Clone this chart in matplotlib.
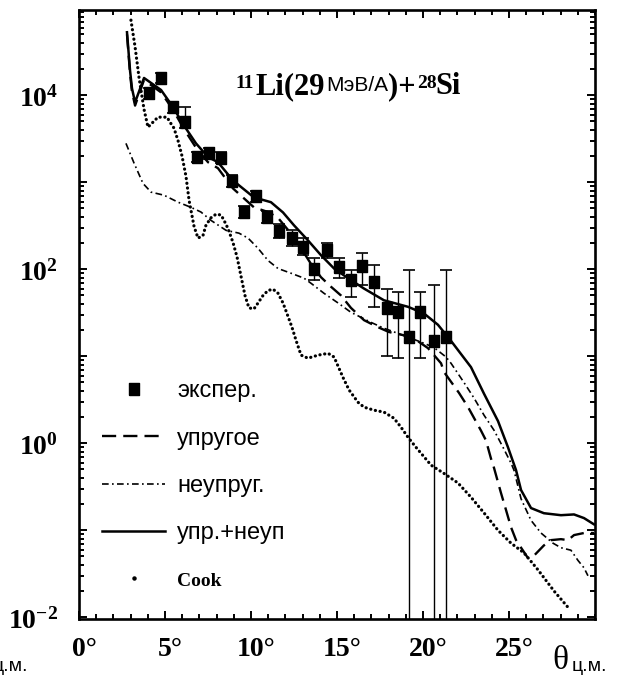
import matplotlib
matplotlib.use("Agg")
import matplotlib.pyplot as plt
from matplotlib.lines import Line2D
from matplotlib.ticker import LogLocator, NullFormatter, MultipleLocator, FixedFormatter, FixedLocator
from matplotlib.transforms import ScaledTranslation

plt.rcParams['mathtext.fontset'] = 'custom'
plt.rcParams['mathtext.rm'] = 'Liberation Serif:bold'
plt.rcParams['mathtext.bf'] = 'Liberation Serif:bold'
plt.rcParams['mathtext.it'] = 'Liberation Serif:bold:italic'

SERIF = 'Liberation Serif'
SANS = 'Liberation Sans'

# experiment: angle (deg), cross section, lower / upper end of the error bar
theta_exp = [4.07, 4.77, 5.47, 6.16, 6.86, 7.56, 8.26, 8.90, 9.59, 10.29, 10.93, 11.63, 12.38,
             13.02, 13.66, 14.42, 15.12, 15.81, 16.45, 17.15, 17.91, 18.55, 19.19, 19.83, 20.64, 21.34]
sigma_exp = [1.05e4, 1.58e4, 7.3e3, 4.9e3, 1.95e3, 2.15e3, 1.9e3, 1.03e3, 460, 690, 400, 275, 230,
             180, 100, 165, 105, 75, 108, 71, 36, 32, 16.5, 32, 15, 16.5]
sigma_lo = [9.0e3, 1.4e4, 6.3e3, 4.2e3, 1.7e3, 1.85e3, 1.65e3, 880, 390, 590, 340, 230, 185,
            145, 75, 134, 79, 48, 66, 37, 10, 9.5, 1e-3, 9.5, 1e-3, 1e-3]
sigma_hi = [1.2e4, 1.8e4, 8.4e3, 7.3e3, 2.25e3, 2.5e3, 2.2e3, 1.2e3, 540, 800, 470, 330, 285,
            228, 134, 200, 134, 98, 152, 111, 60, 55, 98, 55, 66, 98]

# elastic + inelastic
theta_sum = [2.79, 2.97, 3.08, 3.26, 3.78, 4.77, 5.47, 6.10, 6.80, 7.50, 8.08, 8.95, 10.17, 11.16,
             11.86, 12.50, 13.31, 14.07, 14.83, 15.64, 16.57, 17.73, 19.13, 20.06, 20.87, 21.63,
             22.79, 23.55, 24.36, 24.94, 25.41, 25.70, 26.28, 27.03, 28.02, 28.78, 29.36, 29.94]
sigma_sum = [5.3e4, 1.9e4, 1.2e4, 8.3e3, 1.58e4, 1.15e4, 7.3e3, 4.5e3, 2.8e3, 1.95e3, 1.7e3, 1.05e3,
             670, 590, 450, 320, 215, 145, 102, 79, 60, 44, 37, 31, 23, 15,
             7.5, 3.7, 1.8, 0.9, 0.49, 0.29, 0.18, 0.157, 0.149, 0.152, 0.138, 0.117]

# elastic
theta_el = [2.79, 2.97, 3.08, 3.26, 3.78, 4.77, 5.47, 6.10, 6.80, 7.50, 8.08, 8.95, 9.53, 10.17,
            10.99, 11.57, 12.50, 13.49, 14.07, 14.65, 15.23, 15.81, 16.57, 17.38, 18.02, 18.84,
            19.48, 20.29, 21.05, 21.22, 22.09, 22.62, 23.37, 23.66, 23.95, 24.13, 24.53, 24.83,
            25.12, 25.41, 26.10, 26.45, 27.03, 27.44, 28.02, 28.43, 28.78, 29.36, 29.94]
sigma_el = [5.0e4, 1.75e4, 1.1e4, 7.6e3, 1.5e4, 1.08e4, 6.8e3, 4.1e3, 2.5e3, 1.7e3, 1.45e3, 850,
            670, 515, 455, 390, 234, 115, 81, 63, 50, 36, 26, 21.6, 19, 17.5,
            16, 12.4, 8.3, 6.6, 3.8, 2.6, 1.4, 1.08, 0.67, 0.52, 0.27, 0.17,
            0.108, 0.077, 0.048, 0.051, 0.067, 0.077, 0.079, 0.077, 0.088, 0.093, 0.093]

# inelastic
theta_inel = [2.73, 3.20, 3.72, 4.19, 4.94, 5.76, 6.51, 7.09, 7.67, 8.55, 9.30, 9.83, 10.41, 10.99,
              11.57, 12.33, 13.08, 13.49, 14.24, 15.06, 15.81, 16.40, 16.98, 17.73, 18.55, 19.30,
              20.06, 20.64, 21.34, 21.63, 22.38, 22.97, 23.55, 24.13, 24.65, 25.12, 25.29, 25.70,
              26.28, 26.86, 27.56, 28.02, 28.60, 29.01, 29.36, 29.59]
sigma_inel = [2.8e3, 1.66e3, 970, 770, 710, 590, 515, 455, 365, 280, 260, 228, 174, 126,
              102, 90, 79, 69, 53, 41, 32, 28, 24.5, 21, 18.3, 16.1,
              14.1, 12.6, 9.8, 8.3, 5.0, 3.3, 2.1, 1.41, 0.9, 0.59, 0.49, 0.23,
              0.13, 0.093, 0.071, 0.063, 0.059, 0.045, 0.037, 0.030]

# Cook potential
theta_cook = [3.02, 3.26, 3.49, 3.78, 4.01, 4.30, 4.59, 4.88, 5.12, 5.29, 5.52, 5.76, 5.99, 6.22,
              6.40, 6.69, 6.92, 7.21, 7.38, 7.67, 7.97, 8.26, 8.43, 8.66, 8.95, 9.19, 9.42, 9.65,
              9.88, 10.17, 10.41, 10.70, 10.99, 11.28, 11.57, 11.86, 12.09, 12.38, 12.62, 12.91,
              13.31, 13.90, 14.48, 14.83, 15.35, 15.70, 16.22, 16.57, 17.15, 17.73, 18.31, 18.72,
              19.13, 19.59, 20.47, 21.22, 22.03, 22.79, 23.55, 24.36, 25.12, 25.87, 26.69, 27.62,
              28.49]
sigma_cook = [7.3e4, 3.6e4, 1.6e4, 6.9e3, 4.3e3, 4.9e3, 5.6e3, 5.6e3, 5.6e3, 4.9e3, 4.2e3, 3.0e3,
              2.0e3, 1.17e3, 620, 310, 228, 245, 320, 390, 430, 420, 365, 295, 204, 138, 83, 50,
              36, 35, 41, 50, 57, 59, 53, 41, 31, 21.6, 15.2, 10.3,
              9.5, 10.3, 10.8, 9.8, 5.7, 4.1, 2.96, 2.6, 2.4, 2.28, 1.94, 1.53,
              1.17, 0.90, 0.56, 0.45, 0.35, 0.24, 0.158, 0.100, 0.071, 0.055, 0.035, 0.020,
              0.0126]

labels = ['экспер.', 'упругое', 'неупруг.', 'упр.+неуп', 'Cook']

fig = plt.figure(figsize=(6.23, 6.77), dpi=100)
ax = fig.add_axes([79 / 623, 58 / 677, 516 / 623, 609 / 677])
ax.set_yscale('log')

# error bars first, squares on top
err = [[v - lo for v, lo in zip(sigma_exp, sigma_lo)],
       [hi - v for v, hi in zip(sigma_exp, sigma_hi)]]
ax.errorbar(theta_exp, sigma_exp, yerr=err, fmt='none', ecolor='black',
            elinewidth=1.0, capsize=4, capthick=1.2, zorder=3)
box = [(-0.4, -0.5), (0.4, -0.5), (0.4, 0.5), (-0.4, 0.5), (-0.4, -0.5)]
h_exp, = ax.plot(theta_exp, sigma_exp, ls='none', marker=box, markersize=9,
                 color='black', zorder=4)

h_sum, = ax.plot(theta_sum, sigma_sum, color='black', lw=1.8, zorder=2)
h_el, = ax.plot(theta_el, sigma_el, color='black', lw=1.7, ls=(0, (6, 3)), zorder=2)
h_inel, = ax.plot(theta_inel, sigma_inel, color='black', lw=1.2, ls=(0, (4, 2, 1, 2)), zorder=2)
ax.plot(theta_cook, sigma_cook, color='black', lw=2.3, ls=(0, (0.05, 1.45)),
        dash_capstyle='round', zorder=2)
h_cook = Line2D([], [], ls='none', marker='o', markersize=2.2, color='black')

ax.set_xlim(0, 30)
ax.set_ylim(10 ** -2.02, 10 ** 4.98)

# axes frame and ticks
for sp in ax.spines.values():
    sp.set_linewidth(1.9)
ax.xaxis.set_minor_locator(MultipleLocator(1))
ax.set_xticks([0, 5, 10, 15, 20, 25])
ax.set_xticklabels(['0°', '5°', '10°', '15°', '20°', '25°'])
ax.yaxis.set_major_locator(FixedLocator([1e-2, 1e-1, 1, 10, 100, 1e3, 1e4]))
ax.yaxis.set_major_formatter(FixedFormatter([r'$\mathbf{10^{-2}}$', '', r'$\mathbf{10^{0}}$', '',
                                             r'$\mathbf{10^{2}}$', '', r'$\mathbf{10^{4}}$']))
ax.yaxis.set_minor_locator(LogLocator(base=10, subs=range(2, 10), numticks=20))
ax.yaxis.set_minor_formatter(NullFormatter())
ax.tick_params(which='both', direction='in', top=True, right=True, width=1.4)
ax.tick_params(which='major', length=6)
ax.tick_params(which='minor', length=3.5)
ax.tick_params(axis='x', pad=13)
ax.tick_params(axis='y', pad=15)
for lab in ax.get_xticklabels():
    lab.set_fontfamily(SERIF)
    lab.set_fontweight('bold')
    lab.set_fontsize(20)
    lab.set_transform(lab.get_transform() + ScaledTranslation(5 / 100, 0, fig.dpi_scale_trans))
for lab in ax.get_yticklabels():
    lab.set_fontsize(20)

# reaction label
t_li = ax.text(0.342, 0.862, 'Li(29', transform=ax.transAxes, fontsize=22,
               family=SERIF, weight='bold', ha='left', va='baseline')
ax.annotate('11', xy=(0, 1), xycoords=t_li, xytext=(-1, -2), textcoords='offset points',
            ha='right', va='top', fontsize=14, family=SERIF, weight='bold')
t_u = ax.annotate('МэВ/А', xy=(1, 0), xycoords=t_li, xytext=(1, 4), textcoords='offset points',
                  ha='left', va='bottom', fontsize=15, family=SANS)
t_p = ax.annotate(')+', xy=(1, 0), xycoords=t_u, xytext=(0, -4), textcoords='offset points',
                  ha='left', va='bottom', fontsize=22, family=SERIF, weight='bold')
ax.annotate('28', xy=(1, 1), xycoords=t_p, xytext=(1, -2), textcoords='offset points',
            ha='left', va='top', fontsize=14, family=SERIF, weight='bold')
ax.annotate('Si', xy=(1, 0), xycoords=t_p, xytext=(14, 0), textcoords='offset points',
            ha='left', va='bottom', fontsize=22, family=SERIF, weight='bold')

# x axis title
fig.text(552 / 623, 8 / 677, 'θ', fontsize=24, family=SERIF, ha='left', va='baseline')
fig.text(572 / 623, 6 / 677, 'ц.м.', fontsize=14, family=SANS, ha='left', va='baseline')
fig.text(28 / 623, 6 / 677, 'ц.м.', fontsize=14, family=SANS, ha='right', va='baseline')

leg = ax.legend([h_exp, h_el, h_inel, h_sum, h_cook], labels, loc='upper left',
                bbox_to_anchor=(0.044, 0.392), frameon=False,
                prop={'family': SANS, 'size': 17}, handlelength=2.7, handletextpad=0.5,
                labelspacing=1.07, borderpad=0, borderaxespad=0, numpoints=1)
cook_txt = leg.get_texts()[4]
cook_txt.set_fontfamily(SERIF)
cook_txt.set_fontweight('bold')
cook_txt.set_fontsize(14)

fig.savefig('out.png', dpi=100, facecolor='white')
